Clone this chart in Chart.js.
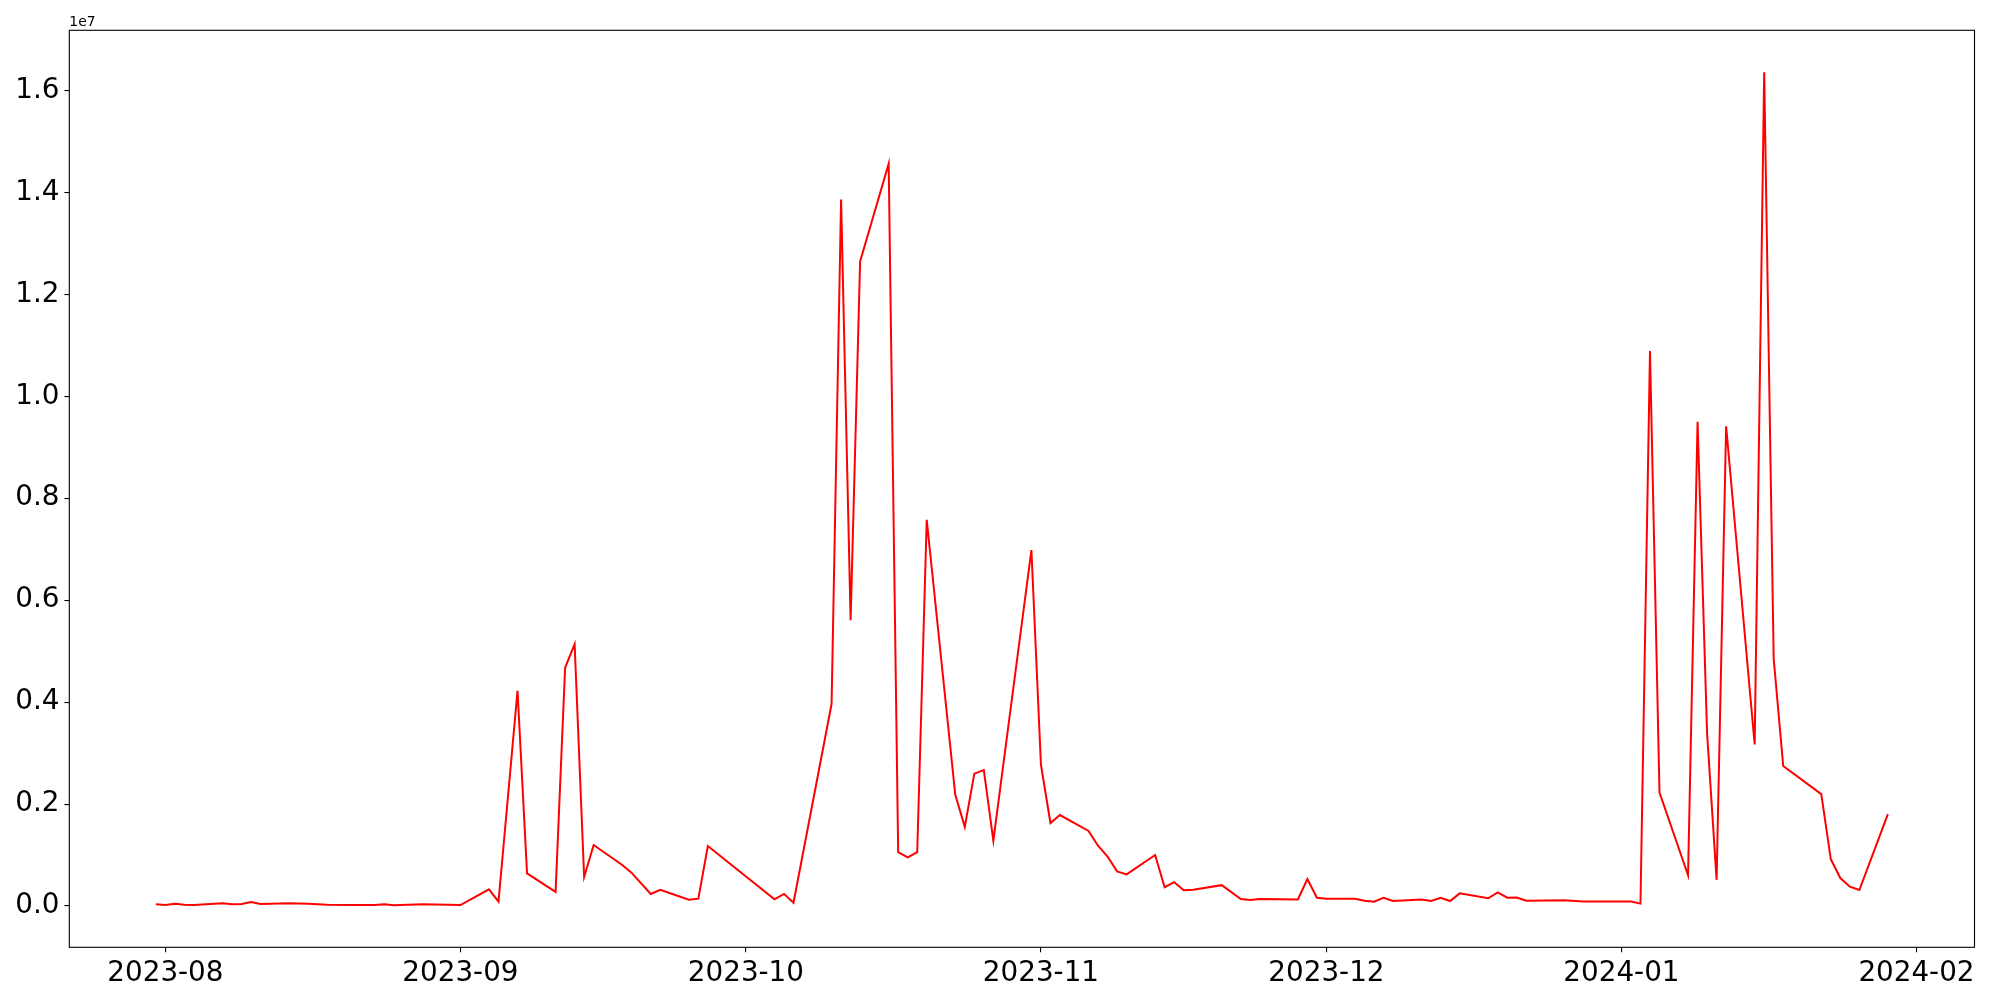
<!DOCTYPE html>
<html>
<head>
<meta charset="utf-8">
<script src="https://cdn.jsdelivr.net/npm/chart.js@4.4.0/dist/chart.umd.min.js"></script>
<style>
html, body { margin: 0; padding: 0; background: #fff; }
#wrap { width: 2000px; height: 1000px; }
</style>
</head>
<body>
<div id="wrap"><canvas id="myChart" width="2000" height="1000"></canvas></div>
<script>
const dates = [
    '2023-07-31', '2023-08-01', '2023-08-02', '2023-08-03', '2023-08-04', '2023-08-07', '2023-08-08',
    '2023-08-09', '2023-08-10', '2023-08-11', '2023-08-14', '2023-08-16', '2023-08-18', '2023-08-21',
    '2023-08-23', '2023-08-24', '2023-08-25', '2023-08-28', '2023-09-01', '2023-09-04', '2023-09-05',
    '2023-09-07', '2023-09-08', '2023-09-11', '2023-09-12', '2023-09-13', '2023-09-14', '2023-09-15',
    '2023-09-18', '2023-09-19', '2023-09-21', '2023-09-22', '2023-09-25', '2023-09-26', '2023-09-27',
    '2023-10-04', '2023-10-05', '2023-10-06', '2023-10-10', '2023-10-11', '2023-10-12', '2023-10-13',
    '2023-10-16', '2023-10-17', '2023-10-18', '2023-10-19', '2023-10-20', '2023-10-23', '2023-10-24',
    '2023-10-25', '2023-10-26', '2023-10-27', '2023-10-31', '2023-11-01', '2023-11-02', '2023-11-03',
    '2023-11-06', '2023-11-07', '2023-11-08', '2023-11-09', '2023-11-10', '2023-11-13', '2023-11-14',
    '2023-11-15', '2023-11-16', '2023-11-17', '2023-11-20', '2023-11-22', '2023-11-23', '2023-11-24',
    '2023-11-28', '2023-11-29', '2023-11-30', '2023-12-01', '2023-12-04', '2023-12-05', '2023-12-06',
    '2023-12-07', '2023-12-08', '2023-12-11', '2023-12-12', '2023-12-13', '2023-12-14', '2023-12-15',
    '2023-12-18', '2023-12-19', '2023-12-20', '2023-12-21', '2023-12-22', '2023-12-26', '2023-12-28',
    '2024-01-02', '2024-01-03', '2024-01-04', '2024-01-05', '2024-01-08', '2024-01-09', '2024-01-10',
    '2024-01-11', '2024-01-12', '2024-01-15', '2024-01-16', '2024-01-17', '2024-01-18', '2024-01-22',
    '2024-01-23', '2024-01-24', '2024-01-25', '2024-01-26', '2024-01-29'
];
const values = [
    33000, 19000, 45000, 25000, 19000, 52000, 33000,
    39000, 78000, 39000, 52000, 45000, 25000, 19000,
    19000, 33000, 13000, 33000, 19000, 327000, 88000,
    4223000, 640000, 278000, 4674000, 5136000, 569000, 1197000,
    804000, 650000, 235000, 319000, 124000, 144000, 1178000,
    131000, 238000, 64000, 3962000, 13858000, 5608000, 12644000,
    14561000, 1058000, 954000, 1058000, 7575000, 2180000, 1553000,
    2597000, 2667000, 1282000, 6983000, 2772000, 1628000, 1784000,
    1473000, 1182000, 971000, 680000, 620000, 1001000, 369000,
    469000, 308000, 318000, 409000, 138000, 118000, 138000,
    128000, 529000, 163000, 144000, 144000, 105000, 85000,
    163000, 98000, 128000, 98000, 163000, 98000, 248000,
    151000, 268000, 163000, 168000, 105000, 113000, 88000,
    88000, 47000, 10887000, 2225000, 604000, 9502000, 3390000,
    514000, 9412000, 3169000, 16358000, 4845000, 2747000, 2195000,
    917000, 549000, 379000, 314000, 1804000
];
const xTicks = ['2023-08-01', '2023-09-01', '2023-10-01', '2023-11-01', '2023-12-01', '2024-01-01', '2024-02-01'];
const yTicks = [0, 2000000, 4000000, 6000000, 8000000, 10000000, 12000000, 14000000, 16000000];

const points = dates.map((d, i) => ({ x: Date.parse(d), y: values[i] }));
const first = Date.parse(dates[0]);
const last = Date.parse(dates[dates.length - 1]);
const xPad = (last - first) * 0.05;

// frame on all four sides + the "1e7" offset text
const frame = {
    id: 'frame',
    afterDatasetsDraw(chart) {
        const { ctx, chartArea: a } = chart;
        ctx.save();
        ctx.strokeStyle = '#000';
        ctx.lineWidth = 1.1;
        ctx.strokeRect(a.left, a.top, a.right - a.left, a.bottom - a.top);
        ctx.fillStyle = '#000';
        ctx.font = '13.9px "DejaVu Sans"';
        ctx.textBaseline = 'alphabetic';
        ctx.fillText('1e7', a.left, a.top - 4.5);
        ctx.restore();
    }
};

const config = {
    type: 'line',
    data: {
        datasets: [{
            data: points,
            borderColor: '#ff0000',
            borderWidth: 2,
            pointRadius: 0,
            tension: 0,
            fill: false
        }]
    },
    options: {
        responsive: false,
        animation: false,
        layout: { padding: { top: 30.3, right: 25.5, left: 0, bottom: 0 } },
        plugins: { legend: { display: false }, tooltip: { enabled: false } },
        scales: {
            x: {
                type: 'linear',
                min: first - xPad,
                max: last + xPad,
                afterBuildTicks: scale => { scale.ticks = xTicks.map(d => ({ value: Date.parse(d) })); },
                afterFit: scale => { scale.height = 52.7; },
                grid: { display: true, drawOnChartArea: false, drawTicks: true, tickLength: 4.9, color: '#000', lineWidth: 1.1 },
                border: { display: false },
                ticks: {
                    color: '#000',
                    padding: 4.9,
                    maxRotation: 0,
                    autoSkip: false,
                    font: { family: 'DejaVu Sans', size: 27.8 },
                    callback: v => {
                        const d = new Date(v);
                        return d.getUTCFullYear() + '-' + String(d.getUTCMonth() + 1).padStart(2, '0');
                    }
                }
            },
            y: {
                min: -810000,
                max: 17180000,
                afterBuildTicks: scale => { scale.ticks = yTicks.map(v => ({ value: v })); },
                afterFit: scale => { scale.width = 69.3; },
                grid: { display: true, drawOnChartArea: false, drawTicks: true, tickLength: 4.9, color: '#000', lineWidth: 1.1 },
                border: { display: false },
                ticks: {
                    color: '#000',
                    padding: 4.9,
                    font: { family: 'DejaVu Sans', size: 27.8 },
                    callback: v => (v / 1e7).toFixed(1)
                }
            }
        }
    },
    plugins: [frame]
};

const myChart = new Chart(document.getElementById('myChart'), config);
</script>
</body>
</html>
